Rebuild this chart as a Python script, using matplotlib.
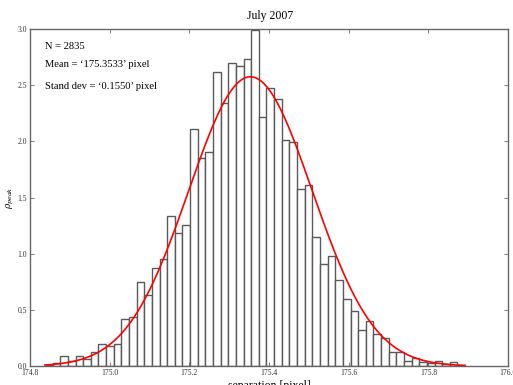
import numpy as np
import matplotlib.pyplot as plt

plt.rcParams['font.family'] = ['Liberation Serif', 'DejaVu Serif']
plt.rcParams['mathtext.fontset'] = 'dejavuserif'

# histogram of the separation (density), 55 bins
bin_lo = 174.8375
bin_hi = 175.892
density = [0.012, 0.030, 0.086, 0.045, 0.086, 0.065, 0.122, 0.193, 0.175, 0.193,
           0.416, 0.434, 0.746, 0.633, 0.873, 0.951, 1.334, 1.185, 1.259, 2.106,
           1.851, 1.904, 2.617, 2.341, 2.694, 2.671, 2.730, 2.986, 2.216, 2.475,
           2.380, 2.011, 1.994, 1.575, 1.613, 1.150, 0.909, 0.983, 0.764, 0.597,
           0.487, 0.321, 0.398, 0.282, 0.247, 0.122, 0.122, 0.047, 0.068, 0.036,
           0.024, 0.050, 0.015, 0.033, 0.012]
n_points = 2835
mean = 175.3533
std = 0.1550

edges = np.linspace(bin_lo, bin_hi, len(density) + 1)
width = edges[1] - edges[0]

fig = plt.figure(figsize=(5.13, 3.85), dpi=100)
ax = fig.add_axes([0.0585, 0.049, 0.932, 0.876])

ax.bar(edges[:-1], density, width=width, align='edge', color='white',
       edgecolor='0.35', linewidth=1.0)

# gaussian with the fitted mean / std
xs = np.linspace(bin_lo, bin_hi, 300)
pdf = np.exp(-0.5 * ((xs - mean) / std) ** 2) / (std * np.sqrt(2 * np.pi))
ax.plot(xs, pdf, color='red', linewidth=1.2)

ax.set_xlim(174.8, 176.0)
ax.set_ylim(0, 3.0)
ax.set_xticks([174.8, 175.0, 175.2, 175.4, 175.6, 175.8, 176.0])
ax.set_xticklabels(['174.8', '175.0', '175.2', '175.4', '175.6', '175.8', '176.0'])
ax.set_yticks([0.0, 0.5, 1.0, 1.5, 2.0, 2.5, 3.0])
ax.tick_params(direction='in', top=True, right=True, labelsize=5.5,
               length=3, width=0.6, color='0.4', labelcolor='0.2', pad=2)
for s in ax.spines.values():
    s.set_color('0.4')
    s.set_linewidth(1.0)

ax.text(0.031, 0.947, f'N = {n_points}', transform=ax.transAxes,
        fontsize=7.6, va='center')
ax.text(0.031, 0.893, f'Mean = \u2018{mean:.4f}\u2019 pixel', transform=ax.transAxes,
        fontsize=7.6, va='center')
ax.text(0.031, 0.828, f'Stand dev = \u2018{std:.4f}\u2019 pixel', transform=ax.transAxes,
        fontsize=7.6, va='center')

fig.text(0.526, 0.958, 'July 2007', ha='center', va='center', fontsize=8.5)
ax.set_xlabel('separation [pixel]', fontsize=8.5, labelpad=2)
ax.set_ylabel(r'$\rho_{peak}$', fontsize=6.5, labelpad=1)

fig.savefig('out.png', dpi=100)
